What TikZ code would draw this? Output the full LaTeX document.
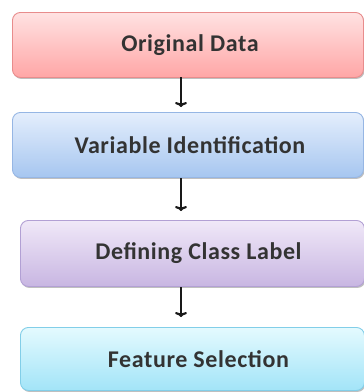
\documentclass[tikz,border=0pt]{standalone}
\usepackage{fontspec}
\setmainfont{Carlito}[LetterSpace=2.5]
\usetikzlibrary{arrows.meta,shadows}
\tikzset{
  stage/.style={rectangle, rounded corners=8pt, line width=0.9pt, anchor=north west,
    inner sep=0pt,
    drop shadow={shadow xshift=1pt, shadow yshift=-1.5pt, opacity=0.25, fill=black}},
  stagetext/.style={font=\fontsize{24}{27}\selectfont\bfseries, text=black!80},
  flow/.style={line width=2.6pt, -{To[length=5pt,width=12pt,line width=2.2pt]}, black!90}
}
\begin{document}
\begin{tikzpicture}[x=1pt,y=-1pt]
\useasboundingbox (0,0) rectangle (364,392);
% process stages, top to bottom
\node[stage, draw={rgb,255:red,232;green,140;blue,140}, top color={rgb,255:red,255;green,226;blue,226},
      bottom color={rgb,255:red,255;green,166;blue,166}, minimum width=351pt, minimum height=65pt]
  (orig) at (12,12) {};
\node[stagetext] (origt) at ([xshift=2pt]orig.center) {Original Data};

\node[stage, draw={rgb,255:red,150;green,182;blue,228}, top color={rgb,255:red,228;green,238;blue,252},
      bottom color={rgb,255:red,166;green,198;blue,240}, minimum width=351pt, minimum height=65pt]
  (var) at (12,112) {};
\node[stagetext] (vart) at ([xshift=2pt]var.center) {Variable Identification};

\node[stage, draw={rgb,255:red,178;green,160;blue,212}, top color={rgb,255:red,240;green,232;blue,248},
      bottom color={rgb,255:red,200;green,182;blue,226}, minimum width=344pt, minimum height=66pt]
  (cls) at (20,220) {};
\node[stagetext] (clst) at ([xshift=6pt]cls.center) {Defining Class Label};

\node[stage, draw={rgb,255:red,130;green,206;blue,232}, top color={rgb,255:red,228;green,250;blue,254},
      bottom color={rgb,255:red,162;green,228;blue,248}, minimum width=344pt, minimum height=63pt]
  (feat) at (20,327) {};
\node[stagetext] (featt) at ([xshift=6pt]feat.center) {Feature Selection};

% connectors between stages
\coordinate (a1) at (181,77);  \coordinate (b1) at (181,107);
\coordinate (a2) at (181,178); \coordinate (b2) at (181,211);
\coordinate (a3) at (181,287); \coordinate (b3) at (181,317);
\draw[flow] (a1) -- (b1);
\draw[flow] (a2) -- (b2);
\draw[flow] (a3) -- (b3);
\end{tikzpicture}
\end{document}
